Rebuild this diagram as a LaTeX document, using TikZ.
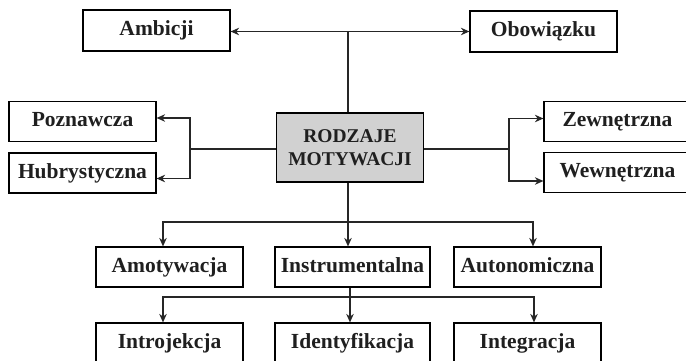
\documentclass[tikz,border=0pt]{standalone}
\usepackage{fontspec}
\setmainfont{Liberation Serif}
\usetikzlibrary{arrows.meta}
\begin{document}
\begin{tikzpicture}[x=1pt,y=-1pt,
  box/.style={draw=black,line width=1.2pt,fill=white,minimum width=147pt,minimum height=40pt,inner sep=0pt,
    text height=14.5pt,text depth=4.5pt,
    font=\fontsize{21.5}{24}\selectfont\bfseries,text=black!88},
  line/.style={line width=1.2pt,draw=black!85},
  arr/.style={line,-{Stealth[length=8.5pt,width=7.5pt]}}]
\useasboundingbox (0,0) rectangle (686,361);
\clip (0,0) rectangle (686,361);
% nodes
\node[box,minimum height=69pt,minimum width=147pt,fill=black!18,align=center,text height=,text depth=,
  font=\fontsize{19.5}{22.5}\selectfont\bfseries] (c) at (350,147.5) {RODZAJE\\MOTYWACJI};
\node[box,minimum height=41pt] (amb) at (156.5,30.5) {Ambicji};
\node[box,minimum height=41pt] (obo) at (543.5,31.5) {Obowiązku};
\node[box] (poz) at (82.5,121.5) {Poznawcza};
\node[box] (hub) at (82.5,173) {Hubrystyczna};
\node[box] (zew) at (617.5,121.5) {Zewnętrzna};
\node[box] (wew) at (617.5,172.5) {Wewnętrzna};
\node[box] (amo) at (169.5,267) {Amotywacja};
\node[box,minimum width=155pt] (ins) at (352.5,267) {Instrumentalna};
\node[box] (aut) at (527.5,267) {Autonomiczna};
\node[box] (intro) at (169.5,343) {Introjekcja};
\node[box,minimum width=155pt] (ide) at (352.5,343) {Identyfikacja};
\node[box] (integ) at (527.5,343) {Integracja};
% top
\coordinate (jt) at (348,31.5);
\draw[line] (c.north -| jt) -- (jt);
\draw[arr] (jt) -- (amb.east |- jt);
\draw[arr] (jt) -- (obo.west |- jt);
% left
\coordinate (jl) at (190,149);
\coordinate (jl1) at (190,118);
\coordinate (jl2) at (190,178.5);
\draw[line] (c.west |- jl) -- (jl);
\draw[arr] (jl) -- (jl1) -- (poz.east |- jl1);
\draw[arr] (jl) -- (jl2) -- (hub.east |- jl2);
% right
\coordinate (jr) at (509,149);
\coordinate (jr1) at (509,118.5);
\coordinate (jr2) at (509,181);
\draw[line] (c.east |- jr) -- (jr);
\draw[arr] (jr) -- (jr1) -- (zew.west |- jr1);
\draw[arr] (jr) -- (jr2) -- (wew.west |- jr2);
% bottom level 1
\coordinate (b1) at (348,222);
\coordinate (b1l) at (163,222);
\coordinate (b1r) at (533,222);
\draw[line] (c.south -| b1) -- (b1);
\draw[arr] (b1) -- (ins.north -| b1);
\draw[arr] (b1) -- (b1l) -- (amo.north -| b1l);
\draw[arr] (b1) -- (b1r) -- (aut.north -| b1r);
% bottom level 2
\coordinate (b2) at (350,297);
\coordinate (b2l) at (163,297);
\coordinate (b2r) at (534,297);
\draw[line] (ins.south -| b2) -- (b2);
\draw[arr] (b2) -- (ide.north -| b2);
\draw[arr] (b2) -- (b2l) -- (intro.north -| b2l);
\draw[arr] (b2) -- (b2r) -- (integ.north -| b2r);
\end{tikzpicture}
\end{document}
